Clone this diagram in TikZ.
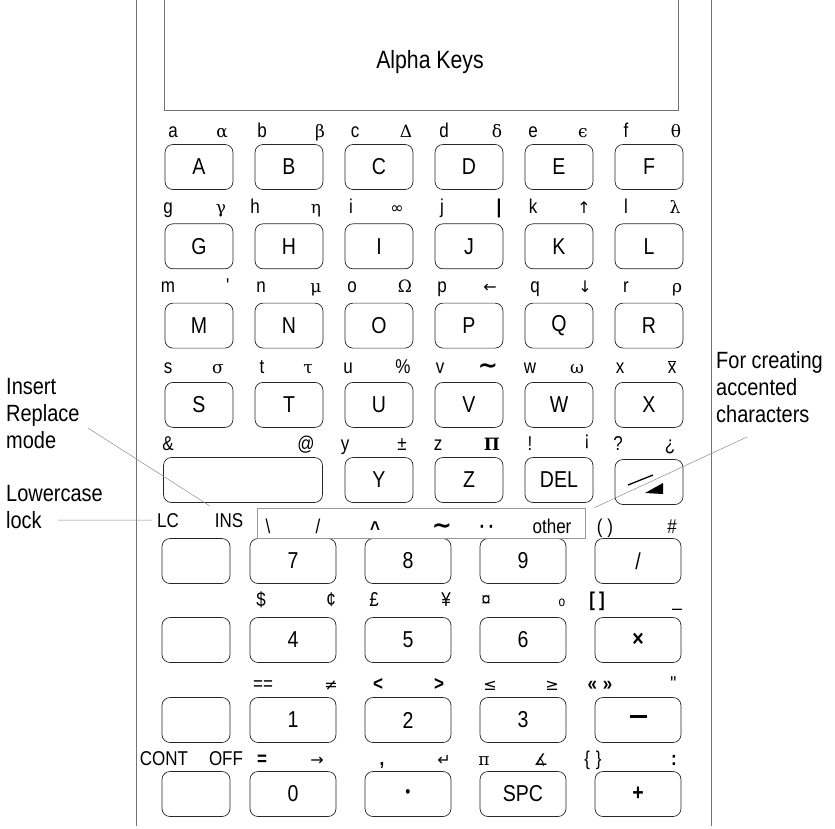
\documentclass[tikz,border=0pt]{standalone}
\usepackage{fontspec}
\setmainfont{Liberation Sans}[FakeStretch=0.85]
\newfontfamily\grkfnt{DejaVu Serif}[Scale=0.85]
\newfontfamily\symfnt{DejaVu Sans}[Scale=0.8]
\usetikzlibrary{positioning,calc}

\newcommand\keyfnt{\fontsize{23}{27}\selectfont}
\newcommand\lblfnt{\fontsize{20}{24}\selectfont}
\newcommand\callfnt{\fontsize{23.5}{27}\selectfont}
\newcommand\gk[1]{{\grkfnt #1}}
\newcommand\sy[1]{{\symfnt #1}}
\newcommand\btilde{{\symfnt\fontsize{30}{30}\selectfont\bfseries ∼}}

\tikzset{
  panel/.style   = {draw=black!55, line width=0.6pt},
  key/.style     = {draw=black!85, line width=0.7pt, rounded corners=8pt,
                    minimum width=68pt, minimum height=45pt, inner sep=0pt,
                    font=\keyfnt},
  numkey/.style  = {key, minimum width=86pt},
  lbl/.style     = {anchor=base, inner sep=0pt, font=\lblfnt},
  callout/.style = {align=left, anchor=north west, inner sep=0pt, font=\callfnt},
  leader/.style  = {draw=black!45, line width=0.5pt},
  strip/.style   = {draw=black!40, line width=0.5pt, inner sep=0pt},
}

\begin{document}
\begin{tikzpicture}[x=1pt,y=-1pt]
\useasboundingbox (0,0) rectangle (835,828);

% case and display
\draw[panel] (136,0) -- (136,826);
\draw[panel] (711,0) -- (711,826);
\draw[panel] (164,0) |- (678,110) -- (678,0);
\node[font=\fontsize{25}{30}\selectfont] (title) at (430,62) {Alpha Keys};

% alpha keys, six to a row
\foreach \k [count=\i from 0] in {A,...,X} {
  \pgfmathtruncatemacro\c{mod(\i,6)}
  \pgfmathtruncatemacro\r{div(\i,6)}
  \node[key] (key\k) at (199+90*\c,167+79.3*\r) {\k};
}
\node[key, minimum width=159pt] (keyAmp) at (243,480) {};
\node[key] (keyY)   at (379,480) {Y};
\node[key] (keyZ)   at (469,480) {Z};
\node[key] (keyDel) at (559,480) {DEL};
\node[key] (keyEnt) at (649,482) {};
\draw[line width=1.3pt] ([shift={(-21,3)}]keyEnt.center) -- ([shift={(4,-7)}]keyEnt.center);
\fill ([shift={(-4,11)}]keyEnt.center) -- ([shift={(14,1)}]keyEnt.center)
  -- ([shift={(14,12)}]keyEnt.center) -- cycle;

% number pad
\foreach \y [count=\r] in {561,640,720,794}
  \node[key] (blank\r) at (196,\y) {};
\foreach \t [count=\i from 0] in {7,8,9,\slash,4,5,6,{\bfseries ×},1,2,3,{\rule[0.3em]{17pt}{2.4pt}},
    0,{\fontsize{17}{17}\selectfont •},SPC,{\bfseries +}} {
  \pgfmathtruncatemacro\c{mod(\i,4)}
  \pgfmathtruncatemacro\r{div(\i,4)}
  \pgfmathsetmacro\y{{561,640,720,794}[\r]}
  \node[numkey] (num\i) at (293+115*\c,\y) {\t};
}
\node[strip, minimum width=328pt, minimum height=30pt] (accents) at (421,523) {};

% shifted labels
\foreach \x/\t [count=\i] in {173/a,222/\gk{α},262/b,320/\gk{β},355/c,406/\gk{Δ},
    444/d,497/\gk{δ},533/e,583/\gk{ϵ},626/f,676/\gk{θ}}
  \node[lbl] (sh1-\i) at (\x,137) {\t};
\foreach \x/\t [count=\i] in {168/g,221/\gk{γ},255/h,316/\gk{η},351/i,397/\sy{∞},
    442/j,499/{\bfseries|},533/k,584/\sy{↑},626/l,675/\gk{λ}}
  \node[lbl] (sh2-\i) at (\x,213) {\t};
\foreach \x/\t [count=\i] in {168/m,228/\textquotesingle,261/n,316/\gk{μ},352/o,405/\gk{Ω},
    442/p,490/\sy{←},535/q,585/\sy{↓},626/r,677/\gk{ρ}}
  \node[lbl] (sh3-\i) at (\x,292) {\t};
\foreach \x/\t [count=\i] in {168/s,218/\gk{σ},262/t,308/\gk{τ},348/u,403/\%,
    440/v,488/\btilde,530/w,577/\gk{ω},620/x,672/{$\overline{\mbox{x}}$}}
  \node[lbl] (sh4-\i) at (\x,373) {\t};
\foreach \x/\t [count=\i] in {168/\&,306/@,345/y,402/±,438/z,492/{\grkfnt\bfseries Π},
    530/!,587/{\raisebox{0.22em}{¡}},618/?,670/¿}
  \node[lbl] (sh5-\i) at (\x,450) {\t};
\node[lbl] (lblLC)  at (168,527) {LC};
\node[lbl] (lblINS) at (229,527) {INS};
\foreach \x/\t [count=\i] in {268/\textbackslash,318/\slash,
    375/{\raisebox{-0.12em}{\bfseries\textasciicircum}},442/\btilde,
    487/{\bfseries ·\,·},552/other,605/( ),672/\#}
  \node[lbl] (sh6-\i) at (\x,533) {\t};
\foreach \x/\t [count=\i] in {261/\$,331/¢,374/£,446/¥,486/¤,
    562/{\fontsize{14}{14}\selectfont o},597/{\bfseries[\hspace{4pt}]},677/\_}
  \node[lbl] (sh7-\i) at (\x,606) {\t};
\foreach \x/\t [count=\i] in {263/==,331/\sy{≠},378/{\bfseries<},439/{\bfseries>},
    490/\sy{≤},552/\sy{≥},600/{\bfseries«\hspace{6pt}»},674/\textquotedbl}
  \node[lbl] (sh8-\i) at (\x,690) {\t};
\foreach \x/\t [count=\i] in {164/CONT,226/OFF,262/{\bfseries =},317/\sy{→},
    382/{\bfseries ,},444/\sy{↵},484/\gk{π},541/\sy{∡},593/{\{\hspace{6pt}\}},674/{\bfseries :}}
  \node[lbl] (sh9-\i) at (\x,765) {\t};

% callouts
\node[callout] (callIns) at (6,378)   {Insert\\Replace\\mode};
\node[callout] (callLC)  at (6,485)   {Lowercase\\lock};
\node[callout] (callAcc) at (716,351) {For creating\\accented\\characters};
\coordinate (insTail)  at (88,428);
\coordinate (lockTail) at (58,520);
\coordinate (accTail)  at (747,437);
\draw[leader] (insTail) -- ([shift={(-5,-7)}]lblINS.north west);
\draw[leader] (lockTail) -- ([xshift=-5pt]lblLC.west);
\draw[leader] (accTail) -- ([xshift=9pt]accents.north east);
\end{tikzpicture}
\end{document}
